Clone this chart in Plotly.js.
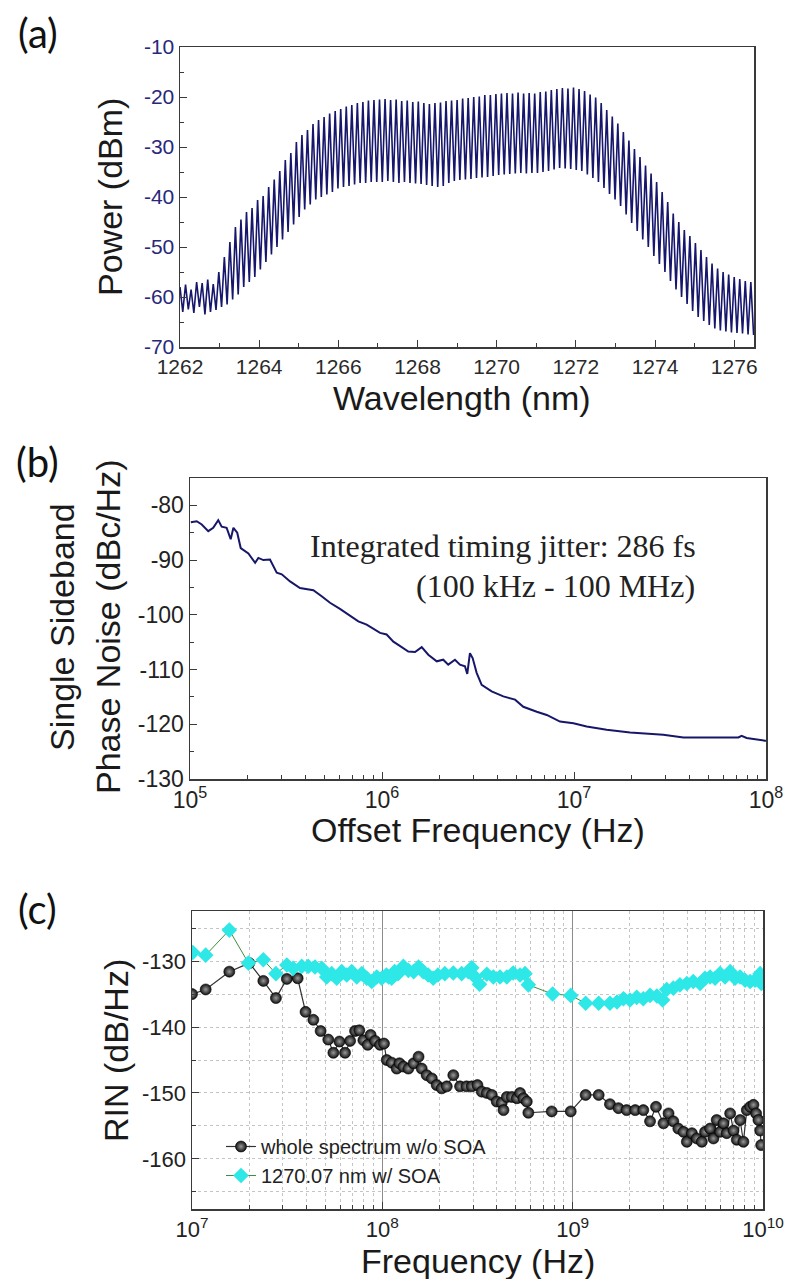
<!DOCTYPE html>
<html>
<head>
<meta charset="utf-8">
<script src="https://cdn.plot.ly/plotly-3.0.1.min.js"></script>
<style>html,body{margin:0;padding:0;background:#fff;}#chart{width:786px;height:1279px;}</style>
</head>
<body>
<div id="chart"></div>
<script>
// ---------- Panel (a): optical spectrum (comb) ----------
const modeStart = 1262.0;      // nm, first comb mode
const modeSpacing = 0.14;      // nm, mode spacing
const combPeaks = [-58,-57.5,-58.5,-57,-57.2,-56.5,-57.4,-55,
 -52,-49,-46,-44.5,-43,-42.2,-40.6,-39.8,
 -38,-36.5,-34.8,-32.6,-31.2,-29,-27.6,-26.6,
 -25.4,-24.6,-24,-23.3,-22.8,-22.4,-21.9,-21.6,
 -21.2,-21,-20.7,-20.6,-20.5,-20.4,-20.6,-20.5,
 -20.8,-20.7,-21,-20.9,-21.2,-21.4,-21.2,-21.1,
 -20.8,-20.7,-20.6,-20.3,-20.2,-20,-19.9,-19.6,
 -19.6,-19.4,-19.3,-19.2,-19.3,-19.1,-19.3,-19.2,
 -19.3,-19,-18.9,-18.6,-18.4,-18.2,-18.3,-18.1,
 -18.4,-18.8,-19.5,-20.1,-21.2,-22.6,-23.9,-25.3,
 -27,-28.7,-30.4,-32,-33.7,-35.3,-37,-39,
 -41,-43.3,-45,-46.6,-47.8,-49.2,-50.6,-52,
 -53.3,-54.3,-55,-55.5,-56,-56.4,-56.8,-57];
const combTroughs = [-63,-62.5,-63.2,-62,-63.5,-63,-62.6,-62,
 -61.5,-60.5,-59.5,-58,-57,-56,-54.5,-53,
 -51.5,-50,-48.5,-47,-45.5,-44,-42.5,-41.5,
 -40.5,-40,-39.5,-39,-38.3,-38,-37.8,-37.5,
 -37.2,-37.2,-37,-37,-37,-36.8,-37,-37.2,
 -37,-37.2,-37.3,-37.4,-37.6,-37.8,-38,-37.8,
 -37.2,-36.8,-36.6,-36.5,-36.4,-36.2,-36.1,-36,
 -35.8,-35.6,-35.5,-35.4,-35.3,-35.2,-35.3,-35.2,
 -35.2,-35,-34.8,-34.5,-34.2,-34.3,-34.4,-34.6,
 -34.8,-35.5,-36.2,-37,-38.2,-39.4,-40.5,-41.8,
 -43.5,-45.2,-46.8,-48.5,-50,-51.8,-53.4,-55,
 -56.8,-58.5,-60,-61.4,-62.8,-64,-64.8,-65.6,
 -66.3,-66.7,-66.9,-67.1,-67.2,-67.3,-67.5,-67.6];
const wlTicks = [1262,1264,1266,1268,1270,1272,1274,1276];
const powTicks = [-70,-60,-50,-40,-30,-20,-10];

// ---------- Panel (b): SSB phase noise ----------
const pnFreq = [1.01e5,1.084e5,1.151e5,1.245e5,1.321e5,1.403e5,1.462e5,1.552e5,1.629e5,1.683e5,1.762e5,1.837e5,
 2.014e5,2.183e5,2.27e5,2.41e5,2.61e5,2.83e5,3.006e5,3.32e5,3.74e5,4.39e5,4.85e5,5.36e5,6.04e5,6.68e5,7.53e5,
 8.32e5,9.38e5,9.77e5,1.057e6,1.146e6,1.216e6,1.371e6,1.486e6,1.61e6,1.742e6,1.928e6,2.084e6,2.213e6,2.399e6,
 2.547e6,2.704e6,2.78e6,2.871e6,2.965e6,3.112e6,3.304e6,3.724e6,4.285e6,4.932e6,5.445e6,6.397e6,7.211e6,
 8.453e6,9.931e6,1.164e7,1.479e7,1.959e7,2.917e7,3.715e7,5.321e7,7.178e7,7.464e7,7.925e7,9.886e7,1e8];
const pnValue = [-83.1,-82.9,-83.5,-84.7,-84.1,-82.7,-83.9,-84.1,-86.2,-84.1,-85.0,-87.8,
 -88.8,-90.5,-89.6,-90.0,-89.9,-92.3,-92.6,-93.9,-95.1,-95.5,-96.6,-97.8,-98.9,-100.0,-101.2,
 -101.8,-103.0,-103.3,-103.6,-104.9,-105.5,-106.7,-106.8,-105.9,-107.3,-108.5,-108.2,-109.1,-108.2,
 -109.1,-109.4,-110.8,-107.0,-107.9,-110.6,-112.8,-114.0,-114.9,-115.5,-116.8,-117.7,-118.3,
 -119.5,-119.8,-120.4,-121.0,-121.5,-121.9,-122.4,-122.4,-122.4,-122.1,-122.5,-123.0,-123.1];
const pnTickVals = [1e5,1e6,1e7,1e8];
const pnTickText = ['10<sup>5</sup>','10<sup>6</sup>','10<sup>7</sup>','10<sup>8</sup>'];
const pnYTicks = [-80,-90,-100,-110,-120,-130];

// ---------- Panel (c): RIN ----------
const rinFreqA = [1e7,1.18e7,1.57e7,2.0e7,2.37e7,2.76e7,3.15e7,3.59e7,3.95e7,4.34e7,4.74e7,5.2e7,5.53e7,5.95e7,
 6.37e7,6.77e7,7.19e7,7.57e7,7.95e7,8.38e7,8.68e7,9.16e7,9.73e7,1.02e8,1.055e8,1.12e8,1.19e8,1.23e8,1.29e8,
 1.37e8,1.46e8,1.55e8,1.61e8,1.71e8,1.82e8,1.93e8,2.05e8,2.18e8,2.36e8,2.56e8,2.77e8,2.95e8,3.16e8,3.33e8,
 3.54e8,3.76e8,3.99e8,4.24e8,4.33e8,4.51e8,4.79e8,5.09e8,5.29e8,5.51e8,5.74e8,5.85e8,7.76e8,9.77e8,1.17e9,
 1.37e9,1.57e9,1.74e9,1.92e9,2.13e9,2.35e9,2.55e9,2.74e9,3.0e9,3.19e9,3.38e9,3.59e9,3.82e9,3.98e9,4.23e9,
 4.49e9,4.77e9,4.96e9,5.27e9,5.49e9,5.71e9,5.95e9,6.2e9,6.45e9,6.72e9,7.0e9,7.28e9,7.58e9,7.89e9,8.22e9,
 8.56e9,8.91e9,9.2e9,9.46e9,9.66e9,9.78e9];
const rinValA = [-135.0,-134.3,-131.6,-130.3,-133.0,-135.6,-132.7,-132.6,-137.7,-138.9,-140.6,-141.9,-143.9,-142.2,
 -143.9,-142.1,-140.6,-140.5,-142.0,-142.7,-141.2,-142.1,-142.7,-142.5,-145.0,-145.4,-146.3,-145.5,-146.0,
 -146.3,-145.5,-144.5,-146.3,-147.3,-147.8,-148.8,-149.3,-149.0,-147.3,-149.0,-149.0,-149.0,-148.8,-149.8,
 -150.0,-150.3,-151.3,-151.5,-152.6,-150.6,-150.6,-150.8,-150.0,-150.8,-151.3,-153.0,-152.8,-152.8,-150.3,
 -150.3,-151.7,-152.3,-152.6,-152.6,-152.6,-154.3,-152.1,-154.6,-153.1,-154.3,-155.4,-155.9,-157.4,-156.1,
 -156.9,-157.4,-155.9,-155.4,-156.9,-154.1,-155.9,-154.6,-156.1,-153.1,-155.7,-157.1,-154.1,-157.4,-152.6,
 -152.1,-151.8,-153.1,-154.1,-155.7,-157.9];
const rinFreqB = [1.01e7,1.18e7,1.57e7,1.98e7,2.37e7,2.76e7,3.15e7,3.4e7,3.77e7,4.08e7,4.43e7,4.81e7,5.1e7,5.42e7,
 5.76e7,6.12e7,6.5e7,6.91e7,7.34e7,7.8e7,8.28e7,8.8e7,9.35e7,9.93e7,1.05e8,1.08e8,1.12e8,1.16e8,1.21e8,1.29e8,
 1.37e8,1.46e8,1.55e8,1.64e8,1.74e8,1.85e8,1.96e8,2.13e8,2.36e8,2.61e8,2.83e8,2.95e8,3.07e8,3.24e8,3.54e8,
 3.83e8,4.15e8,4.51e8,4.87e8,5.29e8,5.62e8,5.85e8,7.85e8,9.77e8,1.17e9,1.37e9,1.57e9,1.71e9,1.85e9,2.0e9,
 2.17e9,2.35e9,2.55e9,2.77e9,2.97e9,3.12e9,3.38e9,3.66e9,3.98e9,4.3e9,4.67e9,4.96e9,5.27e9,5.6e9,5.95e9,
 6.32e9,6.72e9,7.13e9,7.58e9,8.05e9,8.56e9,9.08e9,9.66e9,9.8e9];
const rinValB = [-128.7,-129.1,-125.3,-130.3,-129.8,-131.9,-130.6,-131.1,-130.8,-130.8,-130.9,-131.1,-132.4,-131.9,
 -132.6,-131.6,-132.1,-131.6,-132.4,-131.9,-132.6,-133.1,-132.4,-132.6,-132.1,-132.4,-132.6,-131.6,-131.9,-130.8,
 -131.4,-131.6,-130.9,-131.6,-132.1,-132.6,-132.1,-131.9,-131.8,-131.9,-131.6,-131.0,-132.4,-133.5,-132.0,
 -132.4,-132.4,-132.4,-131.8,-132.1,-131.9,-133.6,-135.0,-135.2,-136.4,-136.4,-136.4,-136.2,-135.7,-135.9,
 -135.5,-135.7,-135.2,-135.3,-135.9,-134.3,-134.1,-133.6,-133.4,-133.1,-133.4,-132.6,-132.4,-132.6,-131.9,
 -132.4,-131.6,-132.6,-132.4,-132.9,-133.1,-132.9,-131.9,-133.4];
const rinTickVals = [1e7,1e8,1e9,1e10];
const rinTickText = ['10<sup>7</sup>','10<sup>8</sup>','10<sup>9</sup>','10<sup>10</sup>'];
const rinYTicks = [-130,-140,-150,-160];
const rinNames = ['whole spectrum w/o SOA','1270.07 nm w/ SOA'];

// ---------- build ----------
const combX = [], combY = [];
for (let i = 0; i < combPeaks.length; i++) {
  const wl = modeStart + i * modeSpacing;
  combX.push(wl - modeSpacing / 2); combY.push(i === 0 ? combTroughs[0] : combTroughs[i - 1]);
  combX.push(wl); combY.push(combPeaks[i]);
}
combX.push(modeStart + (combPeaks.length - 0.5) * modeSpacing);
combY.push(combTroughs[combTroughs.length - 1]);

function minorLog(d0, d1) {
  const v = [];
  for (let d = d0; d < d1; d++) for (let m = 2; m <= 9; m++) v.push(m * Math.pow(10, d));
  return v;
}
const hy = arr => arr.map(v => String(v));   // plain hyphen-minus labels

const W = 786, H = 1279;
const px = x => x / W, py = y => 1 - y / H;
const SANS = 'Liberation Sans, Arial, sans-serif';
const AX = '#3a3a3a';

const traces = [
  {x: combX, y: combY, xaxis: 'x', yaxis: 'y', mode: 'lines', showlegend: false,
   line: {color: '#16166c', width: 1.6}},
  {x: pnFreq, y: pnValue, xaxis: 'x2', yaxis: 'y2', mode: 'lines', showlegend: false,
   line: {color: '#17176a', width: 2}},
  {x: rinFreqA, y: rinValA, xaxis: 'x3', yaxis: 'y3', mode: 'lines+markers', name: rinNames[0],
   line: {color: '#333333', width: 1.2},
   marker: {symbol: 'circle', size: 11, color: '#111111', gradient: {type: 'radial', color: '#9a9a9a'},
            line: {color: '#000', width: 0.6}}},
  {x: rinFreqB, y: rinValB, xaxis: 'x3', yaxis: 'y3', mode: 'lines+markers', name: rinNames[1],
   line: {color: '#3f8f3f', width: 1},
   marker: {symbol: 'diamond', size: 12, color: '#2ee8e8', line: {width: 0}}}
];

const baseAx = {showline: true, mirror: true, linecolor: AX, linewidth: 1.5, ticks: 'inside',
  tickcolor: AX, zeroline: false, showgrid: false};

const layout = {
  width: W, height: H, margin: {l: 0, r: 0, t: 0, b: 0},
  paper_bgcolor: '#fff', plot_bgcolor: '#fff',
  font: {family: SANS, color: '#222'},
  xaxis: Object.assign({}, baseAx, {domain: [px(180), px(754)], anchor: 'y', range: [1262, 1276.5],
    tickvals: wlTicks, ticklen: 7, tickfont: {size: 21, color: '#2a2a2a'},
    minor: {dtick: 1, ticks: 'inside', ticklen: 4, tickcolor: AX}}),
  yaxis: Object.assign({}, baseAx, {domain: [py(347), py(47)], anchor: 'x', range: [-70, -10],
    tickvals: powTicks, ticktext: hy(powTicks), ticklen: 7, tickfont: {size: 21, color: '#28287a'},
    minor: {dtick: 5, ticks: 'inside', ticklen: 4, tickcolor: AX}}),
  xaxis2: Object.assign({}, baseAx, {domain: [px(190), px(766)], anchor: 'y2', type: 'log', range: [5, 8],
    tickvals: pnTickVals, ticktext: pnTickText, ticklen: 7, tickfont: {size: 23, color: '#222'},
    minor: {tickmode: 'array', tickvals: minorLog(5, 8), ticks: 'inside', ticklen: 4, tickcolor: AX}}),
  yaxis2: Object.assign({}, baseAx, {domain: [py(779), py(478)], anchor: 'x2', range: [-130, -75],
    tickvals: pnYTicks, ticktext: hy(pnYTicks), ticklen: 7, tickfont: {size: 23, color: '#222'},
    minor: {tickmode: 'array', tickvals: [-85, -95, -105, -115, -125], ticks: 'inside', ticklen: 4, tickcolor: AX}}),
  xaxis3: Object.assign({}, baseAx, {domain: [px(192), px(763)], anchor: 'y3', type: 'log', range: [7, 10],
    tickvals: rinTickVals, ticktext: rinTickText, ticklen: 7, tickfont: {size: 22, color: '#222'},
    showgrid: true, gridcolor: '#8c8c8c', gridwidth: 1,
    minor: {tickmode: 'array', tickvals: minorLog(7, 10), ticks: 'inside', ticklen: 4, tickcolor: AX,
            showgrid: true, gridcolor: '#c4c4c4', griddash: 'dot', gridwidth: 1}}),
  yaxis3: Object.assign({}, baseAx, {domain: [py(1209), py(911)], anchor: 'x3', range: [-167.6, -122.4],
    tickvals: rinYTicks, ticktext: hy(rinYTicks), ticklen: 7, tickfont: {size: 22, color: '#222'},
    showgrid: true, gridcolor: '#c4c4c4', griddash: 'dot', gridwidth: 1,
    minor: {tickmode: 'array', tickvals: [-125, -135, -145, -155, -165], ticks: 'inside', ticklen: 4, tickcolor: AX,
            showgrid: true, gridcolor: '#c4c4c4', griddash: 'dot', gridwidth: 1}}),
  legend: {x: px(221), y: py(1127), xanchor: 'left', yanchor: 'top', bgcolor: 'rgba(0,0,0,0)',
    font: {size: 20, color: '#222', family: SANS}, tracegroupgap: 0, itemwidth: 30},
  annotations: [
    {text: '(a)', x: px(38), y: py(33), font: {family: 'Lato, Open Sans, sans-serif', size: 40, color: '#111'}},
    {text: '(b)', x: px(37), y: py(462), font: {family: 'Lato, Open Sans, sans-serif', size: 40, color: '#111'}},
    {text: '(c)', x: px(37), y: py(909), font: {family: 'Lato, Open Sans, sans-serif', size: 40, color: '#111'}},
    {text: 'Wavelength (nm)', x: px(462), y: py(398), font: {size: 34, color: '#1a1a1a'}},
    {text: 'Power (dBm)', x: px(110), y: py(197), textangle: -90, font: {size: 34, color: '#1a1a1a'}},
    {text: 'Single Sideband', x: px(62), y: py(627), textangle: -90, font: {size: 34, color: '#1a1a1a'}},
    {text: 'Phase Noise (dBc/Hz)', x: px(108), y: py(627), textangle: -90, font: {size: 34, color: '#1a1a1a'}},
    {text: 'Offset Frequency (Hz)', x: px(478), y: py(830), font: {size: 34, color: '#1a1a1a'}},
    {text: 'RIN (dB/Hz)', x: px(116), y: py(1050), textangle: -90, font: {size: 34, color: '#1a1a1a'}},
    {text: 'Frequency (Hz)', x: px(478), y: py(1261), font: {size: 34, color: '#1a1a1a'}},
    {text: 'Integrated timing jitter: 286 fs', x: px(698), y: py(546), xanchor: 'right',
     font: {family: 'Liberation Serif, Times New Roman, serif', size: 32, color: '#222'}},
    {text: '(100 kHz - 100 MHz)', x: px(697), y: py(586), xanchor: 'right',
     font: {family: 'Liberation Serif, Times New Roman, serif', size: 32, color: '#222'}}
  ].map(a => Object.assign({xref: 'paper', yref: 'paper', showarrow: false, xanchor: 'center', yanchor: 'middle'}, a))
};

Plotly.newPlot('chart', traces, layout, {displayModeBar: false, staticPlot: true});
</script>
</body>
</html>
